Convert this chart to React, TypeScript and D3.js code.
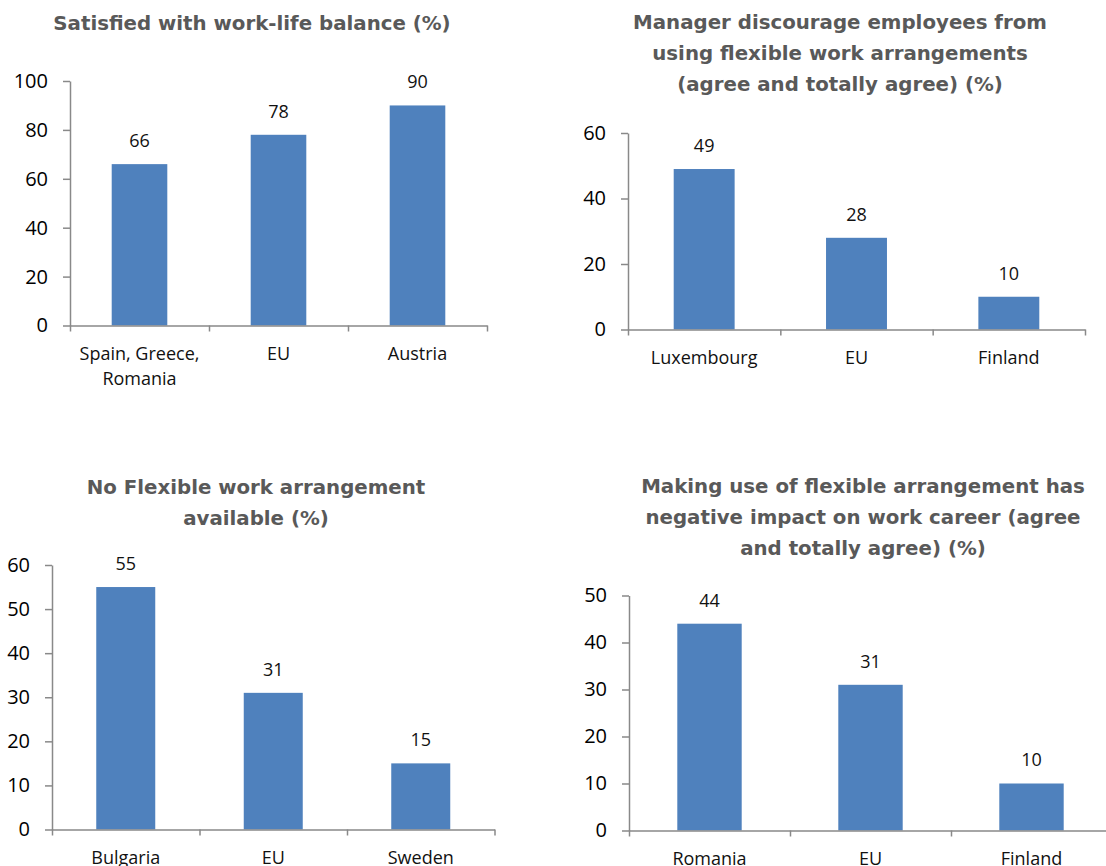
import * as d3 from 'd3';
import React, { useEffect, useRef } from 'react';

// chart values
const balanceCats = ['Spain, Greece,\nRomania', 'EU', 'Austria'];
const balanceVals = [66, 78, 90];

const discourageCats = ['Luxembourg', 'EU', 'Finland'];
const discourageVals = [49, 28, 10];

const noFlexCats = ['Bulgaria', 'EU', 'Sweden'];
const noFlexVals = [55, 31, 15];

const careerCats = ['Romania', 'EU', 'Finland'];
const careerVals = [44, 31, 10];

const balanceTitle = ['Satisfied with work-life balance (%)'];
const discourageTitle = [
  'Manager discourage employees from',
  'using flexible work arrangements',
  '(agree and totally agree) (%)',
];
const noFlexTitle = ['No Flexible work arrangement', 'available (%)'];
const careerTitle = [
  'Making use of flexible arrangement has',
  'negative impact on work career (agree',
  'and totally agree) (%)',
];

type Panel = {
  title: string[];
  cats: string[];
  vals: number[];
  yMax: number;
  yStep: number;
  // layout
  x0: number;
  x1: number;
  yTop: number;
  yBottom: number;
  titleX: number;
  titleY: number;
};

const panels: Panel[] = [
  { title: balanceTitle, cats: balanceCats, vals: balanceVals, yMax: 100, yStep: 20,
    x0: 70, x1: 487, yTop: 81, yBottom: 325.5, titleX: 252, titleY: 23 },
  { title: discourageTitle, cats: discourageCats, vals: discourageVals, yMax: 60, yStep: 20,
    x0: 628, x1: 1085, yTop: 133, yBottom: 329.5, titleX: 840, titleY: 22 },
  { title: noFlexTitle, cats: noFlexCats, vals: noFlexVals, yMax: 60, yStep: 10,
    x0: 52, x1: 494.5, yTop: 565, yBottom: 829.5, titleX: 256, titleY: 487 },
  { title: careerTitle, cats: careerCats, vals: careerVals, yMax: 50, yStep: 10,
    x0: 629, x1: 1112, yTop: 595.5, yBottom: 830.5, titleX: 863, titleY: 486 },
];

const BAR = '#4f81bd';
const AXIS = '#898989';
const FONT = '"Open Sans", "Liberation Sans", sans-serif';
const TITLE_FONT = '"DejaVu Sans", "Open Sans", sans-serif';

const App: React.FC = () => {
  const ref = useRef<SVGSVGElement | null>(null);

  useEffect(() => {
    if (!ref.current) return;
    const svg = d3.select(ref.current);
    svg.selectAll('*').remove();

    panels.forEach(p => {
      const g = svg.append('g');

      const x = d3.scaleBand<string>()
        .domain(p.cats)
        .range([p.x0, p.x1])
        .paddingInner(0.6)
        .paddingOuter(0.3);
      const y = d3.scaleLinear().domain([0, p.yMax]).range([p.yBottom, p.yTop]);

      // title
      g.append('text')
        .attr('x', p.titleX)
        .attr('y', p.titleY)
        .attr('text-anchor', 'middle')
        .attr('font-family', TITLE_FONT)
        .attr('font-weight', 700)
        .attr('font-size', 19.8)
        .attr('fill', '#595959')
        .selectAll('tspan')
        .data(p.title)
        .join('tspan')
        .attr('x', p.titleX)
        .attr('dy', (_d, i) => (i === 0 ? '0.35em' : 31))
        .text(d => d);

      // bars
      g.selectAll('rect')
        .data(p.vals)
        .join('rect')
        .attr('x', (_d, i) => x(p.cats[i]) ?? 0)
        .attr('y', d => y(d))
        .attr('width', x.bandwidth())
        .attr('height', d => y(0) - y(d))
        .attr('fill', BAR);

      // value labels
      g.selectAll('text.val')
        .data(p.vals)
        .join('text')
        .attr('class', 'val')
        .attr('x', (_d, i) => (x(p.cats[i]) ?? 0) + x.bandwidth() / 2)
        .attr('y', d => y(d) - 23.5)
        .attr('dy', '0.35em')
        .attr('text-anchor', 'middle')
        .attr('font-family', FONT)
        .attr('font-size', 18)
        .attr('fill', '#111')
        .text(d => d);

      // y axis
      const yAxis = g.append('g')
        .attr('transform', `translate(${p.x0},0)`)
        .call(d3.axisLeft(y)
          .tickValues(d3.range(0, p.yMax + 1, p.yStep))
          .tickSize(7)
          .tickSizeOuter(0)
          .tickPadding(15));
      yAxis.selectAll('path, line').attr('stroke', AXIS).attr('stroke-width', 1.5);
      yAxis.selectAll('text')
        .attr('font-family', FONT)
        .attr('font-size', 20)
        .attr('fill', '#000');

      // x axis: ticks on category boundaries
      const xb = d3.scaleLinear().domain([0, p.cats.length]).range([p.x0, p.x1]);
      const xAxis = g.append('g')
        .attr('transform', `translate(0,${p.yBottom})`)
        .call(d3.axisBottom(xb)
          .tickValues(d3.range(p.cats.length + 1))
          .tickSize(6)
          .tickSizeOuter(0)
          .tickFormat(() => ''));
      xAxis.selectAll('path, line').attr('stroke', AXIS).attr('stroke-width', 1.5);

      // category labels
      const cl = g.selectAll('text.cat')
        .data(p.cats)
        .join('text')
        .attr('class', 'cat')
        .attr('text-anchor', 'middle')
        .attr('font-family', FONT)
        .attr('font-size', 18)
        .attr('fill', '#111')
        .attr('y', p.yBottom + 28);
      cl.selectAll('tspan')
        .data(d => d.split('\n').map(t => ({ t, c: d })))
        .join('tspan')
        .attr('x', d => (x(d.c) ?? 0) + x.bandwidth() / 2)
        .attr('dy', (_d, i) => (i === 0 ? '0.35em' : 25))
        .text(d => d.t);
    });
  }, []);

  return (
    <svg
      ref={ref}
      width={1106}
      height={866}
      style={{ position: 'absolute', left: 0, top: 0, display: 'block', background: '#fff' }}
    />
  );
};

export default App;
